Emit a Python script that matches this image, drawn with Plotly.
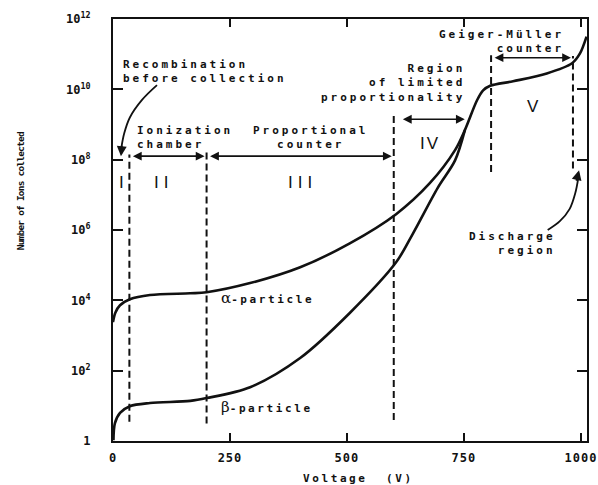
import numpy as np
import plotly.graph_objects as go

# ---------------- data ----------------
voltage_alpha = [0, 5, 15, 36, 79, 165, 200, 293, 400, 506, 605, 677, 731, 752, 778, 791, 806, 855, 927, 981, 998, 1012]
alpha_log10 = [3.38, 3.65, 3.86, 4.03, 4.15, 4.20, 4.23, 4.49, 4.94, 5.62, 6.45, 7.33, 8.27, 8.84, 9.69, 9.97, 10.10, 10.23, 10.45, 10.74, 11.02, 11.50]

voltage_beta = [1, 4, 15, 36, 79, 165, 200, 293, 400, 506, 605, 641, 694, 731, 752]
beta_log10 = [0.02, 0.50, 0.80, 0.99, 1.08, 1.14, 1.22, 1.53, 2.36, 3.64, 5.08, 5.90, 7.20, 7.98, 8.84]

# region boundaries (V) and vertical extent of the dashed lines (log10 of ions)
boundary_voltage = [35, 200, 600, 808, 983]
boundary_top_log10 = [8.15, 8.25, 9.25, 10.97, 10.95]
boundary_bottom_log10 = [0.55, 0.50, 0.60, 7.65, 7.75]

# span arrows: start V, end V, level (log10)
span_start = [35, 200, 612, 808]
span_end = [200, 600, 756, 983]
span_level = [8.1, 8.1, 9.15, 10.9]

x_ticks = [0, 250, 500, 750, 1000]
y_tick_exp = [0, 2, 4, 6, 8, 10, 12]
y_tick_text = ["1"] + [f"10<sup>{e}</sup>" for e in y_tick_exp[1:]]

FONT = "DejaVu Sans Mono"
INK = "#111111"


def spaced(text, px):
    return "<br>".join(f'<span style="letter-spacing:{px}px">{t}</span>' for t in text.split("<br>"))


fig = go.Figure()

fig.add_trace(go.Scatter(x=voltage_alpha, y=10 ** np.array(alpha_log10), mode="lines",
                         line=dict(color=INK, width=2.6, shape="spline", smoothing=0.9),
                         hoverinfo="skip", showlegend=False))
fig.add_trace(go.Scatter(x=voltage_beta, y=10 ** np.array(beta_log10), mode="lines",
                         line=dict(color=INK, width=2.6, shape="spline", smoothing=0.9),
                         hoverinfo="skip", showlegend=False))

for v, top, bot in zip(boundary_voltage, boundary_top_log10, boundary_bottom_log10):
    fig.add_trace(go.Scatter(x=[v, v], y=[10 ** bot, 10 ** top], mode="lines",
                             line=dict(color=INK, width=2, dash="7px,4px"),
                             hoverinfo="skip", showlegend=False))

# curved pointer lines
recomb_curve_v = [94, 62, 36, 24, 18]
recomb_curve_e = [10.12, 9.70, 9.20, 8.75, 8.35]
discharge_curve_v = [929, 955, 976, 988, 994]
discharge_curve_e = [6.00, 6.25, 6.60, 7.05, 7.45]
for cv, ce in [(recomb_curve_v, recomb_curve_e), (discharge_curve_v, discharge_curve_e)]:
    fig.add_trace(go.Scatter(x=cv, y=10 ** np.array(ce), mode="lines",
                             line=dict(color=INK, width=1.8, shape="spline"),
                             hoverinfo="skip", showlegend=False))

ann = []


def text(t, v, e, xanchor="left", size=11, sp=3, family=FONT):
    ann.append(dict(x=v, y=e, xref="x", yref="y", text=spaced(t, sp) if sp else t,
                    showarrow=False, xanchor=xanchor, yanchor="middle",
                    align=xanchor,
                    font=dict(family=family, size=size, color=INK, weight="bold")))


text("Recombination<br>before collection", 17, 10.52, "left")
text("Ionization<br>chamber", 46, 8.64, "left")
text("Proportional<br>counter", 423, 8.64, "center")
text("Region<br>of limited<br>proportionality", 756, 10.18, "right")
text("Geiger-Müller<br>counter", 968, 11.36, "right")
text("Discharge<br>region", 951, 5.62, "right")
GREEK = '<span style="font-family:DejaVu Serif;font-size:15px;font-weight:normal">{}</span>'
PART = '<span style="letter-spacing:2.6px">-particle</span>'
text(GREEK.format("α") + PART, 227, 4.07, "left", sp=0)
text(GREEK.format("β") + PART, 227, 0.97, "left", sp=0)

# region numerals
for t, v, e, sp in [("I", 19, 7.36, 0), ("II", 107, 7.36, 5), ("III", 404, 7.36, 5),
                    ("IV", 677, 8.47, 2), ("V", 897, 9.50, 0)]:
    ann.append(dict(x=v, y=e, xref="x", yref="y", text=spaced(t, sp) if sp else t, showarrow=False,
                    xanchor="center", yanchor="middle",
                    font=dict(family="Liberation Sans", size=17, color=INK)))

# double-headed span arrows
for v0, v1, e in zip(span_start, span_end, span_level):
    ann.append(dict(x=v1, y=e, ax=v0, ay=e, xref="x", yref="y", axref="x", ayref="y",
                    text="", showarrow=True, arrowhead=2, arrowside="end+start",
                    arrowsize=1.1, arrowwidth=1.6, arrowcolor=INK, standoff=2, startstandoff=2))

# arrow heads of the curved pointers
ann.append(dict(x=17, y=8.1, xref="x", yref="y", ax=1, ay=-12, text="", showarrow=True,
                arrowhead=2, arrowsize=1.1, arrowwidth=1.8, arrowcolor=INK))
ann.append(dict(x=996, y=7.7, xref="x", yref="y", ax=-3, ay=12, text="", showarrow=True,
                arrowhead=2, arrowsize=1.1, arrowwidth=1.8, arrowcolor=INK))

# axis titles
ann.append(dict(x=0.5185, y=-0.088, xref="paper", yref="paper", text=spaced("Voltage  (V)", 2.6),
                showarrow=False, xanchor="center", yanchor="middle",
                font=dict(family=FONT, size=11, color=INK, weight="bold")))
ann.append(dict(x=-0.196, y=0.592, xref="paper", yref="paper", text=spaced("Number of Ions collected", -0.8),
                showarrow=False, textangle=-90, xanchor="center", yanchor="middle",
                font=dict(family=FONT, size=9.5, color=INK, weight="bold")))

fig.update_layout(
    width=598, height=485,
    margin=dict(l=113, r=11, t=19, b=44),
    paper_bgcolor="white", plot_bgcolor="white",
    annotations=ann, showlegend=False,
    xaxis=dict(range=[0, 1013], tickvals=x_ticks,
               ticktext=[spaced(str(t), 1) for t in x_ticks],
               ticks="inside", ticklen=8, tickwidth=2, tickcolor=INK,
               showline=True, linewidth=2, linecolor=INK, mirror="ticks",
               showgrid=False, zeroline=False, automargin=False, ticklabelstandoff=5,
               tickfont=dict(family=FONT, size=12, color=INK, weight="bold")),
    yaxis=dict(type="log", range=[0, 12], tickvals=[10 ** e for e in y_tick_exp], ticktext=y_tick_text,
               ticks="inside", ticklen=10, tickwidth=2, tickcolor=INK,
               showline=True, linewidth=2, linecolor=INK, mirror="ticks",
               showgrid=False, zeroline=False, automargin=False, ticklabelstandoff=18,
               tickfont=dict(family=FONT, size=12, color=INK, weight="bold")),
)

fig.write_html("out.html")
